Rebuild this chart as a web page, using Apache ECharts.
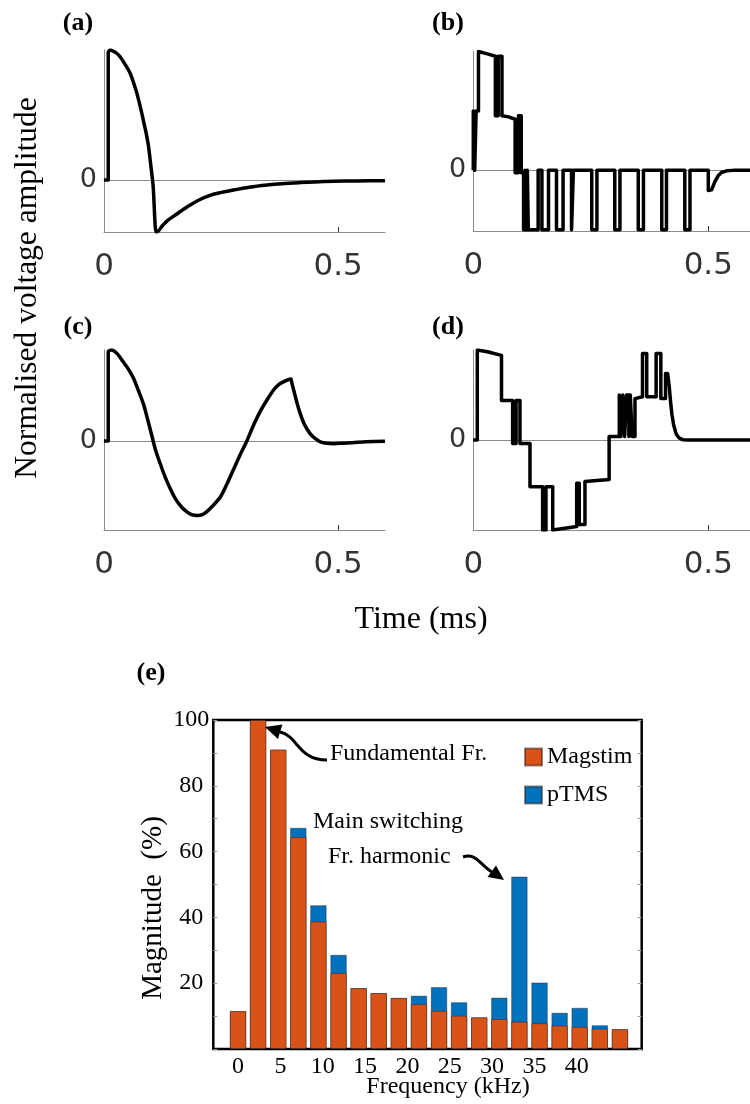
<!DOCTYPE html>
<html>
<head>
<meta charset="utf-8">
<script src="https://cdn.jsdelivr.net/npm/echarts@6/dist/echarts.min.js"></script>
<style>
  html, body { margin: 0; padding: 0; background: #fff; }
  #chart { width: 750px; height: 1104px; }
</style>
</head>
<body>
<div id="chart"></div>
<script>
// Normalised coil voltage waveforms: [time (ms), normalised amplitude]
const waveA = [[0,0],[0.009,0],[0.009,0.98],[0.013,1.0],[0.02,0.99],[0.027,0.975],[0.034,0.95],[0.045,0.89],[0.056,0.82],[0.063,0.75],[0.07,0.67],[0.077,0.57],[0.084,0.46],[0.09,0.36],[0.095,0.26],[0.1,0.11],[0.105,-0.05],[0.111,-0.4],[0.113,-0.4],[0.125,-0.35],[0.136,-0.31],[0.148,-0.28],[0.16,-0.25],[0.17,-0.225],[0.185,-0.19],[0.205,-0.15],[0.225,-0.12],[0.245,-0.1],[0.276,-0.077],[0.31,-0.055],[0.348,-0.038],[0.38,-0.028],[0.419,-0.02],[0.45,-0.015],[0.49,-0.01],[0.54,-0.007],[0.6,-0.005]];

const waveB = [[0,0],[0,0.5],[0.003,0.5],[0.003,0],[0.006,0],[0.006,0.5],[0.011,0.5],[0.011,1.0],[0.03,0.98],[0.047,0.96],[0.047,0.46],[0.053,0.46],[0.053,0.96],[0.061,0.96],[0.061,0.46],[0.075,0.45],[0.089,0.43],[0.089,-0.02],[0.096,-0.02],[0.096,0.46],[0.102,0.46],[0.102,-0.02],[0.107,-0.02],[0.107,-0.5],[0.11,-0.5],[0.11,0],[0.112,0],[0.112,-0.5],[0.115,-0.5],[0.115,0],[0.117,0],[0.117,-0.5],[0.138,-0.5],[0.138,0],[0.146,0],[0.146,-0.5],[0.16,-0.5],[0.16,0],[0.177,0],[0.177,-0.5],[0.191,-0.5],[0.191,0],[0.209,0],[0.209,-0.5],[0.213,-0.5],[0.213,0],[0.252,0],[0.252,-0.5],[0.263,-0.5],[0.263,0],[0.301,0],[0.301,-0.5],[0.312,-0.5],[0.312,0],[0.351,0],[0.351,-0.5],[0.362,-0.5],[0.362,0],[0.401,0],[0.401,-0.5],[0.411,-0.5],[0.411,0],[0.45,0],[0.45,-0.5],[0.461,-0.5],[0.461,0],[0.5,0],[0.5,-0.17],[0.503,-0.175],[0.507,-0.164],[0.514,-0.094],[0.521,-0.046],[0.528,-0.018],[0.539,-0.004],[0.553,0],[0.6,0]];

const waveC = [[0,0],[0.009,0],[0.009,0.98],[0.016,1.0],[0.028,0.96],[0.041,0.87],[0.052,0.79],[0.063,0.69],[0.073,0.56],[0.084,0.41],[0.093,0.24],[0.102,0.06],[0.11,-0.1],[0.12,-0.25],[0.13,-0.39],[0.141,-0.52],[0.153,-0.64],[0.166,-0.73],[0.177,-0.78],[0.187,-0.81],[0.2,-0.82],[0.21,-0.81],[0.219,-0.78],[0.233,-0.71],[0.248,-0.62],[0.262,-0.48],[0.276,-0.32],[0.29,-0.16],[0.305,0.0],[0.319,0.17],[0.333,0.32],[0.348,0.45],[0.362,0.56],[0.373,0.62],[0.383,0.65],[0.392,0.67],[0.399,0.68],[0.401,0.64],[0.405,0.56],[0.412,0.42],[0.419,0.3],[0.428,0.18],[0.44,0.08],[0.45,0.03],[0.462,-0.01],[0.475,-0.025],[0.49,-0.03],[0.51,-0.025],[0.53,-0.02],[0.56,-0.01],[0.6,-0.005]];

const waveD = [[0,0],[0.0085,0],[0.0085,1.0],[0.03,0.98],[0.06,0.94],[0.06,0.44],[0.0837,0.44],[0.0837,-0.04],[0.091,-0.04],[0.091,0.44],[0.0993,0.44],[0.0993,-0.04],[0.1206,-0.04],[0.1206,-0.52],[0.1475,-0.52],[0.1475,-1.0],[0.1546,-1.0],[0.1546,-0.52],[0.169,-0.52],[0.169,-1.0],[0.195,-0.98],[0.22,-0.96],[0.22,-0.48],[0.2255,-0.48],[0.2255,-0.94],[0.2376,-0.94],[0.2376,-0.46],[0.289,-0.44],[0.289,0.04],[0.3106,0.04],[0.3106,0.5],[0.314,0.5],[0.314,0.04],[0.318,0.04],[0.318,0.5],[0.322,0.5],[0.322,0.04],[0.326,0.04],[0.326,0.5],[0.331,0.5],[0.331,0.04],[0.334,0.04],[0.334,0.5],[0.338,0.5],[0.338,0.04],[0.344,0.04],[0.344,0.46],[0.36,0.48],[0.36,0.96],[0.369,0.96],[0.369,0.48],[0.389,0.48],[0.389,0.96],[0.399,0.96],[0.399,0.46],[0.409,0.46],[0.409,0.74],[0.4135,0.74],[0.417,0.59],[0.42,0.41],[0.4227,0.28],[0.4262,0.17],[0.4312,0.074],[0.4369,0.026],[0.4454,0.004],[0.4574,0],[0.6,0]];

// Harmonic spectrum (e)
const freqKHz = [0, 2.37, 4.75, 7.12, 9.49, 11.87, 14.24, 16.61, 18.98, 21.36, 23.73, 26.1, 28.48, 30.85, 33.22, 35.6, 37.97, 40.34, 42.71, 45.09];
const magstim = [11.5, 100, 91.0, 64.4, 38.7, 23.1, 18.5, 17.0, 15.5, 13.6, 11.6, 10.1, 9.6, 9.1, 8.3, 7.8, 7.1, 6.7, 6.2, 6.0];
const ptms    = [11.5, 100, 91.0, 67.2, 43.7, 28.6, 18.5, 17.0, 15.5, 16.2, 18.8, 14.2, 9.6, 15.6, 52.4, 20.2, 11.0, 12.5, 7.2, 6.0];

// Tick labels
const timeTicks = [0, 0.5];
const ampTicks = [0];
const magTicks = [20, 40, 60, 80, 100];
const freqTicks = [0, 5, 10, 15, 20, 25, 30, 35, 40];

const SERIF = 'Liberation Serif';
const SANS = 'DejaVu Sans';
const GREY = '#8c8c8c';
const ORANGE = '#D95319';
const BLUE = '#0072BD';

// smooth: analogue ringing waveforms; stepped: switched multilevel waveforms
const panels = [
  { data: waveA, left: 104,   top: 50,   width: 281, height: 182,   yMin: -0.4,  yMax: 1, smooth: 0.3 },
  { data: waveB, left: 473.3, top: 51.5, width: 282, height: 179.5, yMin: -0.51, yMax: 1, smooth: false },
  { data: waveC, left: 104,   top: 350,  width: 281, height: 180,   yMin: -0.98, yMax: 1, smooth: 0.3 },
  { data: waveD, left: 473.3, top: 350,  width: 282, height: 180,   yMin: -1,    yMax: 1, smooth: false }
];

const grid = [], xAxis = [], yAxis = [], series = [];

panels.forEach((p, i) => {
  grid.push({ left: p.left, top: p.top, width: p.width, height: p.height,
              containLabel: false, outerBoundsMode: 'none' });
  // bottom time axis
  xAxis.push({
    gridIndex: i, type: 'value', min: 0, max: 0.6, position: 'bottom',
    axisLine: { show: true, onZero: false, lineStyle: { color: GREY, width: 1 } },
    axisTick: { show: true, inside: true, length: 5, customValues: [0.5], lineStyle: { color: '#333', width: 1 } },
    axisLabel: { customValues: timeTicks, fontFamily: SANS, fontSize: 31, color: '#333', margin: 19 },
    splitLine: { show: false }
  });
  // zero reference line
  xAxis.push({
    gridIndex: i, type: 'value', min: 0, max: 0.6, position: 'top',
    axisLine: { show: true, onZero: true, lineStyle: { color: GREY, width: 1 } },
    axisTick: { show: false }, axisLabel: { show: false }, splitLine: { show: false }
  });
  yAxis.push({
    gridIndex: i, type: 'value', min: p.yMin, max: p.yMax,
    axisLine: { show: true, onZero: false, lineStyle: { color: GREY, width: 1 } },
    axisTick: { show: false },
    axisLabel: { customValues: ampTicks, fontFamily: SANS, fontSize: 27, color: '#333', margin: 7,
                 padding: [7, 0, 0, 0] },
    splitLine: { show: false }
  });
  series.push({
    type: 'line', xAxisIndex: 2 * i, yAxisIndex: i, data: p.data,
    showSymbol: false, symbol: 'none', clip: true, z: 3, smooth: p.smooth,
    lineStyle: { color: '#000', width: 3.5, join: 'round' }
  });
});

// Spectrum panel
grid.push({ left: 213.3, top: 720, width: 428.4, height: 329, show: true,
            borderColor: '#000', borderWidth: 2.5, containLabel: false, outerBoundsMode: 'none' });
xAxis.push({
  gridIndex: 4, type: 'value', min: -2.92, max: 47.66,
  axisLine: { show: false, onZero: false }, axisTick: { show: false }, splitLine: { show: false },
  axisLabel: { customValues: freqTicks, fontFamily: SERIF, fontSize: 24, color: '#000', margin: 6 }
});
yAxis.push({
  gridIndex: 4, type: 'value', min: 0, max: 100, interval: 10, position: 'left',
  axisLine: { show: false, onZero: false }, splitLine: { show: false },
  axisTick: { show: true, inside: true, length: 4, lineStyle: { color: '#999' } },
  axisLabel: { customValues: magTicks, align: 'center', margin: 22, fontFamily: SERIF, fontSize: 24, color: '#000',
               padding: [5, 0, 0, 0] }
});
yAxis.push({
  gridIndex: 4, type: 'value', min: 0, max: 100, interval: 10, position: 'right',
  axisLine: { show: false, onZero: false }, splitLine: { show: false }, axisLabel: { show: false },
  axisTick: { show: true, inside: true, length: 4, lineStyle: { color: '#999' } }
});
const barEdge = { borderColor: 'rgba(40,20,10,0.5)', borderWidth: 0.8 };
series.push({
  name: 'pTMS', type: 'bar', xAxisIndex: 8, yAxisIndex: 4, barWidth: 16.3,
  data: freqKHz.map((f, i) => [f, ptms[i]]),
  itemStyle: Object.assign({ color: BLUE }, barEdge)
});
series.push({
  name: 'Magstim', type: 'bar', xAxisIndex: 8, yAxisIndex: 4, barWidth: 16.3, barGap: '-100%',
  data: freqKHz.map((f, i) => [f, magstim[i]]),
  itemStyle: Object.assign({ color: ORANGE }, barEdge)
});

const label = (text, x, y, size, opts) => Object.assign({
  type: 'text', x: x, y: y,
  style: Object.assign({ text: text, fontFamily: SERIF, fontSize: size, fill: '#000',
                         textAlign: 'center', textVerticalAlign: 'middle' }, (opts && opts.style) || {})
}, (opts && opts.el) || {});

const graphic = [
  label('(a)', 78, 23, 26, { style: { fontWeight: 'bold' } }),
  label('(b)', 448, 23, 26, { style: { fontWeight: 'bold' } }),
  label('(c)', 78, 327, 26, { style: { fontWeight: 'bold' } }),
  label('(d)', 448, 327, 26, { style: { fontWeight: 'bold' } }),
  label('(e)', 151, 673, 26, { style: { fontWeight: 'bold' } }),
  label('Normalised voltage amplitude', 28, 288, 31.5, { el: { rotation: Math.PI / 2 } }),
  label('Time (ms)', 421, 620, 32),
  label('Magnitude  (%)', 153, 908, 29, { el: { rotation: Math.PI / 2 } }),
  label('Frequency (kHz)', 448, 1087, 24),
  label('Fundamental Fr.', 330, 754, 24, { style: { textAlign: 'left' } }),
  label('Main switching', 313, 822, 24, { style: { textAlign: 'left' } }),
  label('Fr. harmonic', 328, 857, 24, { style: { textAlign: 'left' } }),
  // arrow to the fundamental
  { type: 'bezierCurve', z: 10,
    shape: { x1: 327, y1: 760, cpx1: 298, cpy1: 760, cpx2: 298, cpy2: 736, x2: 280, y2: 732 },
    style: { stroke: '#000', lineWidth: 3, fill: null } },
  { type: 'polygon', z: 10, shape: { points: [[265, 727], [282.4, 724.6], [278, 739]] }, style: { fill: '#000' } },
  // arrow to the switching harmonic
  { type: 'bezierCurve', z: 10,
    shape: { x1: 463, y1: 857, cpx1: 476, cpy1: 852, cpx2: 481, cpy2: 866, x2: 492, y2: 872 },
    style: { stroke: '#000', lineWidth: 3, fill: null } },
  { type: 'polygon', z: 10, shape: { points: [[504, 880], [487.5, 877], [496, 865.5]] }, style: { fill: '#000' } }
];

const chart = echarts.init(document.getElementById('chart'), null, { renderer: 'canvas' });
chart.setOption({
  animation: false,
  backgroundColor: '#fff',
  grid: grid,
  xAxis: xAxis,
  yAxis: yAxis,
  series: series,
  legend: {
    data: ['Magstim', 'pTMS'], orient: 'vertical', left: 524, top: 745, padding: 0,
    itemWidth: 17, itemHeight: 17, itemGap: 14, icon: 'rect',
    textStyle: { fontFamily: SERIF, fontSize: 24, color: '#000' }
  },
  graphic: graphic
});
</script>
</body>
</html>
